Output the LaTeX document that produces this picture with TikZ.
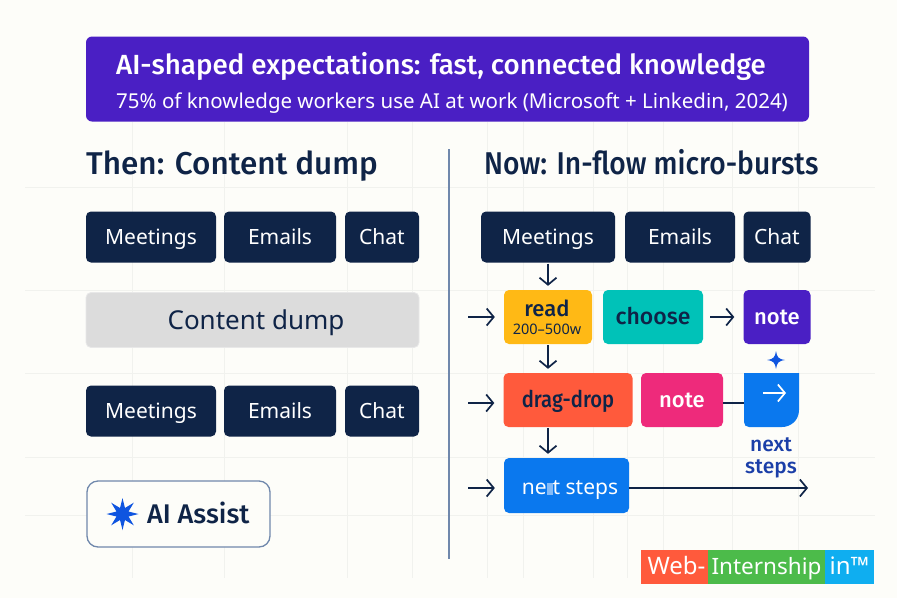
\documentclass[tikz,border=0pt]{standalone}
\usepackage{fontspec}
\usepackage{graphicx}
\setmainfont{Noto Sans}
\newfontfamily\medf{Fira Sans Medium}
\usetikzlibrary{arrows.meta}
\definecolor{navy}{HTML}{0F2447}
\definecolor{bgc}{HTML}{FDFDF9}
\definecolor{gridc}{HTML}{F1F2EE}
\definecolor{hdr}{HTML}{4A1FC4}
\definecolor{cread}{HTML}{FFB915}
\definecolor{cteal}{HTML}{00C2B8}
\definecolor{cpink}{HTML}{EE2A7B}
\definecolor{cdrag}{HTML}{FF5A3C}
\definecolor{cblue}{HTML}{0A78EE}
\definecolor{cstar}{HTML}{0F55E0}
\definecolor{cnext}{HTML}{1B3FA8}
\definecolor{cdump}{HTML}{DCDCDC}
\definecolor{cline}{HTML}{7088AC}
\definecolor{lgg}{HTML}{4CBB4A}
\definecolor{lgb}{HTML}{0FAEF0}
\tikzset{
  x=1pt,y=-1pt,
  fs/.style={font=\fontsize{#1}{#1}\selectfont},
  tcs/.style={text height=13pt,text depth=3pt},
  tcm/.style={text height=18pt,text depth=3pt},
  tcl/.style={text height=21pt,text depth=3pt},
  box/.style={rounded corners=5pt,inner sep=0pt,align=center,minimum height=51pt,fill=navy,text=white,fs=21,tcm},
  cbox/.style={rounded corners=5pt,inner sep=0pt,align=center,fs=21,tcm},
  tip/.style={-{Straight Barb[length=7pt,width=17pt,line width=1.7pt]}},
  conn/.style={draw=navy,line width=1.7pt,tip},
  hconn/.style={conn,shorten >=9pt},
  vconn/.style={conn,shorten <=1pt,shorten >=4pt},
  plain/.style={draw=navy,line width=1.7pt},
  gridl/.style={draw=gridc,line width=0.8pt},
}
\begin{document}
\begin{tikzpicture}
\useasboundingbox (0,0) rectangle (897,598);
\fill[bgc] (0,0) rectangle (897,598);
\foreach \gx in {132,224,347,412,487,523,593,627,663,732,798} \draw[gridl] (\gx,122) -- (\gx,578);
\foreach \gy in {187,290,373,457,515} \draw[gridl] (25,\gy) -- (875,\gy);
% header
\node[rounded corners=6pt,fill=hdr,minimum width=723pt,minimum height=85pt,inner sep=0pt] (hdrbox) at (447.5,79) {};
\node[anchor=west,text=white,fs=27.7,inner sep=0pt,tcl] (t1) at (116,65) {\medf AI-shaped expectations: fast, connected knowledge};
\node[anchor=west,text=white,fs=20.5,inner sep=0pt,tcm] (t2) at (116,101) {75\% of knowledge workers use AI at work (Microsoft + Linkedin, 2024)};
% column titles
\node[anchor=west,text=navy,fs=31.5,inner sep=0pt,text height=25pt,text depth=3pt] (thenT) at (86,163) {\medf Then: Content dump};
\node[anchor=west,text=navy,fs=31.5,inner sep=0pt,text height=25pt,text depth=3pt] (nowT) at (484,163) {\scalebox{0.895}[1]{\medf Now: In-flow micro-bursts}};
\coordinate (divT) at (449,149);
\coordinate (divB) at (449,559);
\draw[draw=cline,line width=1.3pt] (divT) -- (divB);
% left
\node[box,minimum width=130pt] (lm1) at (151,237) {Meetings};
\node[box,minimum width=112pt] (le1) at (280,237) {Emails};
\node[box,minimum width=74pt] (lc1) at (382,237) {Chat};
\node[cbox,fill=cdump,draw=black!9,line width=0.8pt,minimum width=333pt,minimum height=55pt,text=navy,fs=26,tcl] (dump) at (252.5,320) {\hspace{7pt}Content dump};
\node[box,minimum width=130pt] (lm2) at (151,411) {Meetings};
\node[box,minimum width=112pt] (le2) at (280,411) {Emails};
\node[box,minimum width=74pt] (lc2) at (382,411) {Chat};
\node[rounded corners=11pt,draw=cline,line width=1.3pt,fill=bgc,minimum width=183pt,minimum height=66pt,inner sep=0pt] (aibox) at (178.5,514) {};
\node[anchor=west,text=navy,fs=27,inner sep=0pt,tcl] (ait) at (147,514) {\medf AI Assist};
\fill[cstar] (122.5,498)
  \foreach \k in {1,...,15}{ -- ({122.5+(mod(\k,2)==0 ? 16 : 6.5)*sin(\k*22.5)},{514-(mod(\k,2)==0 ? 16 : 6.5)*cos(\k*22.5)}) } -- cycle;
% right top
\node[box,minimum width=134pt] (rm) at (548,237) {Meetings};
\node[box,minimum width=110pt] (re) at (680,237) {Emails};
\node[box,minimum width=67pt] (rc) at (777,237) {Chat};
% row 1
\node[cbox,fill=cread,minimum width=88pt,minimum height=54pt] (read) at (548,317) {};
\node[text=navy,fs=22,inner sep=0pt,tcm] (readt) at (547,309) {\medf read};
\node[text=navy,fs=14.5,inner sep=0pt,tcs] (reads) at (547,329) {200–500w};
\node[cbox,fill=cteal,text=navy,minimum width=100pt,minimum height=54pt,fs=23] (choose) at (653,317) {\medf choose};
\node[cbox,fill=hdr,text=white,minimum width=67pt,minimum height=54pt,fs=22] (note1) at (777,317) {\medf note};
% row 2
\node[cbox,fill=cdrag,text=navy,minimum width=129pt,minimum height=54pt,fs=23] (drag) at (568,400) {\scalebox{0.88}[1]{\medf drag-drop}};
\node[cbox,fill=cpink,text=white,minimum width=82pt,minimum height=54pt,fs=22] (note2) at (682,400) {\medf note};
\fill[cblue] (744,373) -- (799,373) -- (799,410) .. controls (799,421) and (790,427) .. (782,427) -- (749,427) .. controls (746,427) and (744,425) .. (744,422) -- cycle;
\coordinate (notein) at (744,403);
\draw[plain] (note2.east |- notein) -- (notein);
\coordinate (wa) at (763,393);
\coordinate (wb) at (786,393);
\draw[draw=white,line width=1.7pt,tip] (wa) -- (wb);
\fill[cstar] (776,351) .. controls (777,357) and (778,359) .. (785,360) .. controls (778,361) and (777,363) .. (776,369) .. controls (775,363) and (774,361) .. (767,360) .. controls (774,359) and (775,357) .. (776,351) -- cycle;
\node[text=cnext,fs=21,align=center,inner sep=0pt] (nst) at (771,458) {\medf next\\[1pt]\medf steps};
% row 3
\node[cbox,fill=cblue,minimum width=125pt,minimum height=55pt] (next) at (566.5,485.5) {};
\node[text=white,fs=21,inner sep=0pt,tcm] (nextt) at (570,487) {ne\textcolor{cblue!50!white}{\rule[0pt]{6pt}{12pt}}t steps};
\coordinate (endr) at (808,488);
\draw[conn] (next.east |- endr) -- (endr);
% arrows
\draw[vconn] (rm.south -| read) -- (read.north);
\draw[vconn] (read.south) -- (read.south |- drag.north);
\draw[vconn] (read.south |- drag.south) -- (read.south |- next.north);
\coordinate (a1) at (468,317);
\coordinate (a2) at (468,403);
\coordinate (a3) at (468,488);
\draw[hconn] (a1) -- (a1 -| read.west) ;
\draw[hconn] (a2) -- (a2 -| drag.west);
\draw[hconn] (a3) -- (a3 -| next.west);
\coordinate (a4) at (710,317);
\draw[hconn] (a4) -- (a4 -| note1.west);
% logo
\node[fill=cdrag,minimum width=67.5pt,minimum height=34pt,inner sep=0pt] (lg1) at (674.25,567) {};
\node[fill=lgg,minimum width=117pt,minimum height=34pt,inner sep=0pt] (lg2) at (766.5,567) {};
\node[fill=lgb,minimum width=49pt,minimum height=34pt,inner sep=0pt] (lg3) at (849.5,567) {};
\node[text=white,fs=24,inner sep=0pt,tcm] at (676.5,567) {Web-};
\node[text=white,fs=22.5,inner sep=0pt,tcm] at (lg2) {Internship};
\node[text=white,fs=24,inner sep=0pt,tcm] at (lg3) {in™};
\end{tikzpicture}
\end{document}
